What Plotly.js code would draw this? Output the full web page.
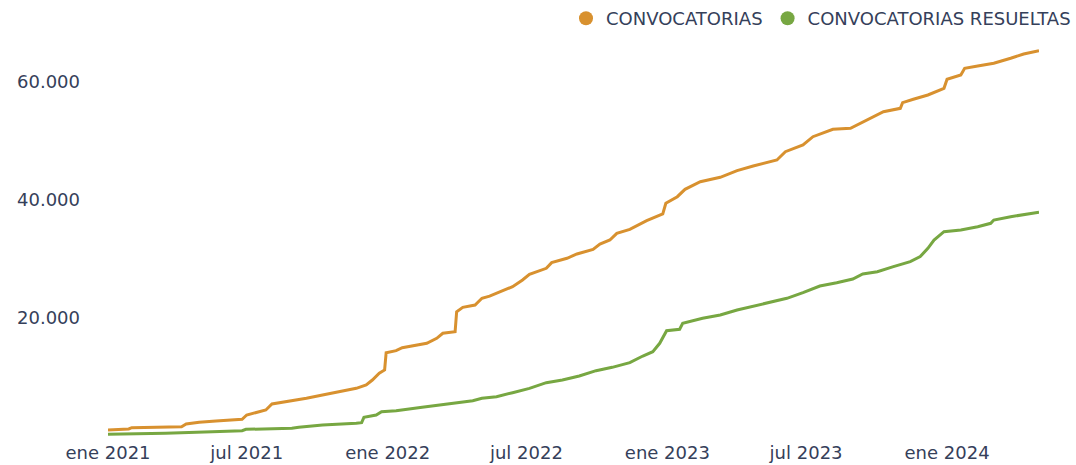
<!DOCTYPE html>
<html>
<head>
<meta charset="utf-8">
<script src="https://cdn.plot.ly/plotly-3.0.1.min.js"></script>
<style>html,body{margin:0;padding:0;background:#fff;}#chart{width:1076px;height:465px;}</style>
</head>
<body>
<div id="chart"></div>
<script>
// CONVOCATORIAS (cumulative)
const convDates = ["2021-01-01","2021-01-28","2021-02-01","2021-04-07","2021-04-13","2021-04-30","2021-05-22","2021-06-25","2021-07-01","2021-07-26","2021-08-03","2021-08-21","2021-09-07","2021-09-17","2021-10-08","2021-10-30","2021-11-21","2021-12-04","2021-12-12","2021-12-21","2021-12-28","2021-12-30","2022-01-12","2022-01-20","2022-02-21","2022-03-06","2022-03-14","2022-03-30","2022-04-01","2022-04-09","2022-04-25","2022-05-04","2022-05-14","2022-06-13","2022-06-26","2022-07-05","2022-07-27","2022-08-03","2022-08-23","2022-09-05","2022-09-26","2022-10-05","2022-10-18","2022-10-27","2022-11-13","2022-12-05","2022-12-26","2022-12-30","2023-01-14","2023-01-24","2023-02-13","2023-03-11","2023-04-02","2023-04-23","2023-05-15","2023-05-24","2023-06-04","2023-06-27","2023-07-10","2023-08-05","2023-08-28","2023-09-10","2023-09-23","2023-10-10","2023-11-01","2023-11-04","2023-11-18","2023-12-07","2023-12-28","2024-01-01","2024-01-19","2024-01-24","2024-02-10","2024-03-02","2024-03-24","2024-04-10","2024-04-30"];
const convValues = [1000,1190,1410,1580,2030,2320,2540,2830,3560,4410,5420,5820,6100,6390,6950,7510,8080,8640,9490,10630,11190,14120,14460,14970,15710,16560,17410,17680,21070,21810,22200,23340,23700,25310,26440,27400,28420,29380,30120,30850,31640,32540,33220,34350,35030,36490,37630,39440,40560,41810,43100,43850,44970,45770,46490,46780,48190,49320,50730,51990,52150,53000,53850,54970,55540,56500,57070,57800,58930,60460,61190,62320,62720,63170,64020,64750,65310];

// CONVOCATORIAS RESUELTAS (cumulative)
const resDates = ["2021-01-01","2021-03-17","2021-05-17","2021-06-25","2021-06-30","2021-08-29","2021-09-07","2021-10-08","2021-11-21","2021-11-28","2021-12-01","2021-12-17","2021-12-24","2022-01-12","2022-02-15","2022-03-10","2022-04-01","2022-04-22","2022-05-04","2022-05-23","2022-06-13","2022-07-05","2022-07-27","2022-08-17","2022-09-08","2022-09-30","2022-10-21","2022-11-13","2022-11-30","2022-12-13","2022-12-22","2022-12-31","2023-01-17","2023-01-21","2023-02-16","2023-03-11","2023-04-02","2023-04-23","2023-05-15","2023-06-06","2023-06-27","2023-07-19","2023-08-10","2023-08-31","2023-09-13","2023-10-02","2023-10-23","2023-11-14","2023-11-27","2023-12-07","2023-12-15","2023-12-28","2024-01-19","2024-02-10","2024-02-27","2024-03-02","2024-03-24","2024-04-30"];
const resValues = [300,460,730,900,1130,1300,1500,1860,2150,2260,3170,3560,4120,4290,4860,5250,5650,5980,6390,6670,7340,8080,9040,9490,10170,11070,11640,12430,13560,14290,15710,17850,18090,19100,19950,20510,21360,22030,22600,23340,24290,25420,25980,26610,27460,27850,28700,29550,30400,31810,33220,34630,34920,35480,36050,36610,37170,37920];

const seriesNames = ["CONVOCATORIAS","CONVOCATORIAS RESUELTAS"];
const xTickVals = ["2021-01-01","2021-07-01","2022-01-01","2022-07-01","2023-01-01","2023-07-01","2024-01-01"];
const xTickText = ["ene 2021","jul 2021","ene 2022","jul 2022","ene 2023","jul 2023","ene 2024"];
const yTickVals = [20000,40000,60000];
const yTickText = ["20.000","40.000","60.000"];

const cOrange = "#d8912f";
const cGreen = "#77a742";
const txt = "#35405a";

const traces = [
  {type:"scatter", mode:"lines", x:convDates, y:convValues, name:seriesNames[0], showlegend:false,
   line:{color:cOrange, width:3}},
  {type:"scatter", mode:"lines", x:resDates, y:resValues, name:seriesNames[1], showlegend:false,
   line:{color:cGreen, width:3}},
  {type:"scatter", mode:"markers", x:[null], y:[null], name:seriesNames[0], legendgroup:"a",
   marker:{color:cOrange, size:14, symbol:"circle"}},
  {type:"scatter", mode:"markers", x:[null], y:[null], name:seriesNames[1], legendgroup:"b",
   marker:{color:cGreen, size:14, symbol:"circle"}}
];

const layout = {
  width:1076, height:465,
  margin:{l:108, r:37, t:40, b:25},
  paper_bgcolor:"#fff", plot_bgcolor:"#fff",
  font:{family:"DejaVu Sans, Verdana, sans-serif", size:18, color:txt},
  showlegend:true,
  legend:{orientation:"h", xref:"paper", yref:"container", x:1.045, xanchor:"right", y:1, yanchor:"top",
          font:{size:18, color:txt}, itemwidth:30, tracegroupgap:0, bgcolor:"rgba(0,0,0,0)"},
  xaxis:{type:"date", range:["2021-01-01","2024-04-30"], showgrid:false, zeroline:false, showline:false,
         tickmode:"array", tickvals:xTickVals, ticktext:xTickText, ticks:"", tickfont:{size:18, color:txt}},
  yaxis:{range:[-678,67120], showgrid:false, zeroline:false, showline:false,
         tickmode:"array", tickvals:yTickVals, ticktext:yTickText, ticks:"", ticklabelstandoff:27, tickfont:{size:18, color:txt}},
  hovermode:false
};

Plotly.newPlot("chart", traces, layout, {displayModeBar:false, staticPlot:true});
</script>
</body>
</html>
